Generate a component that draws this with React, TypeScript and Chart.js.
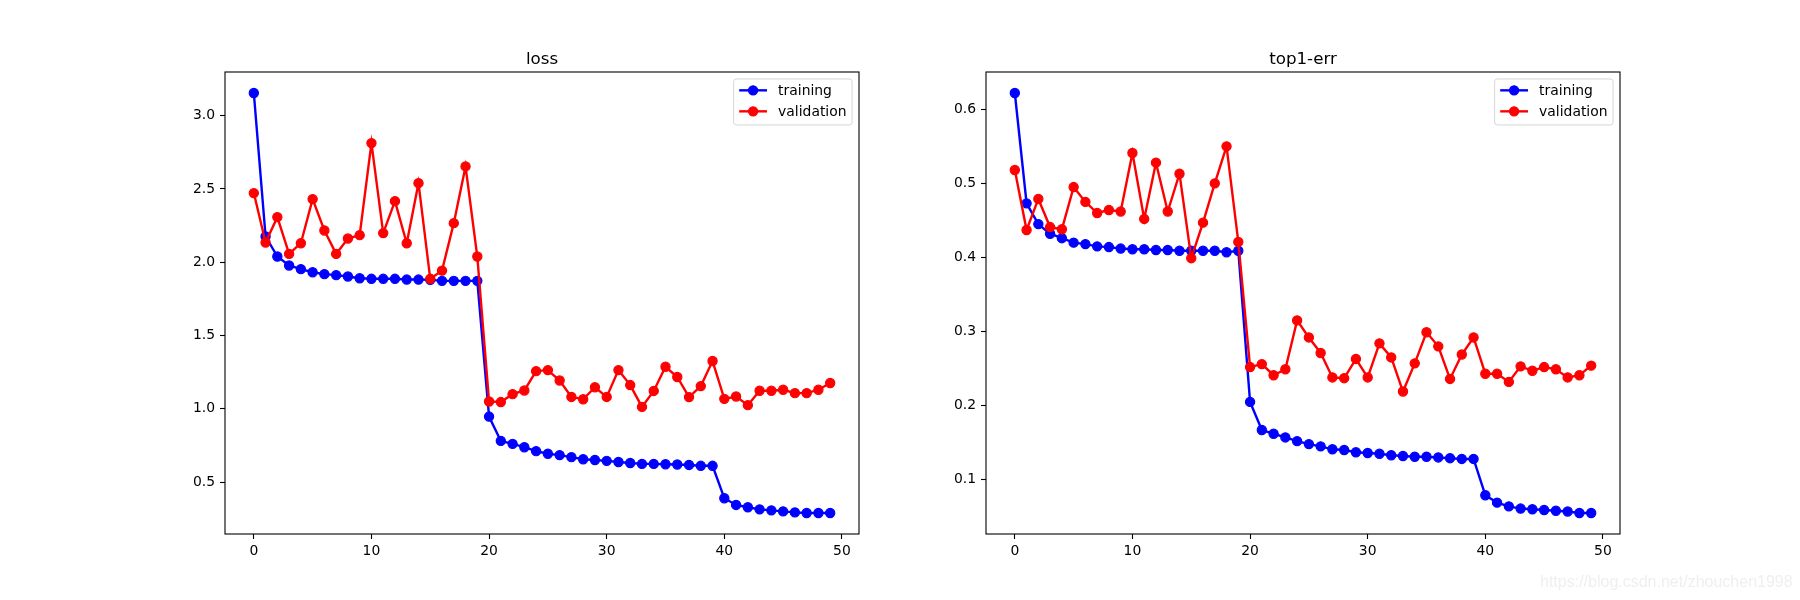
import React, { useEffect, useRef } from "react";
import { Chart, registerables } from "chart.js";

Chart.register(...registerables);

// ---------------- data ----------------
const epochs = [
  0, 1, 2, 3, 4, 5, 6, 7, 8, 9, 10, 11, 12, 13, 14, 15, 16, 17, 18, 19, 20, 21, 22, 23, 24,
  25, 26, 27, 28, 29, 30, 31, 32, 33, 34, 35, 36, 37, 38, 39, 40, 41, 42, 43, 44, 45, 46, 47, 48, 49,
];

const lossTrain = [
  3.155, 2.176, 2.039, 1.978, 1.953, 1.932, 1.919, 1.912, 1.903, 1.891,
  1.887, 1.887, 1.887, 1.882, 1.882, 1.88, 1.873, 1.873, 1.873, 1.873,
  0.947, 0.781, 0.761, 0.738, 0.711, 0.693, 0.684, 0.67, 0.656, 0.651,
  0.645, 0.637, 0.63, 0.624, 0.624, 0.622, 0.62, 0.617, 0.611, 0.611,
  0.39, 0.344, 0.328, 0.314, 0.307, 0.3, 0.293, 0.289, 0.289, 0.289,
];

const lossVal = [
  2.472, 2.135, 2.308, 2.057, 2.13, 2.431, 2.217, 2.057, 2.162, 2.185,
  2.813, 2.199, 2.417, 2.13, 2.54, 1.887, 1.943, 2.267, 2.654, 2.039,
  1.05, 1.046, 1.1, 1.125, 1.257, 1.264, 1.193, 1.081, 1.065, 1.147,
  1.081, 1.264, 1.162, 1.013, 1.122, 1.287, 1.217, 1.08, 1.155, 1.326,
  1.068, 1.084, 1.025, 1.123, 1.123, 1.13, 1.107, 1.107, 1.13, 1.176,
];

const errTrain = [
  0.622, 0.473, 0.445, 0.432, 0.426, 0.42, 0.418, 0.415, 0.414, 0.412,
  0.411, 0.411, 0.41, 0.41, 0.409, 0.409, 0.409, 0.409, 0.407, 0.409,
  0.205, 0.167, 0.162, 0.157, 0.152, 0.148, 0.145, 0.141, 0.14, 0.137,
  0.136, 0.135, 0.133, 0.132, 0.131, 0.131, 0.13, 0.129, 0.128, 0.128,
  0.079, 0.069, 0.064, 0.061, 0.06, 0.059, 0.058, 0.057, 0.055, 0.055,
];

const errVal = [
  0.518, 0.437, 0.479, 0.441, 0.438, 0.495, 0.475, 0.46, 0.464, 0.462,
  0.541, 0.452, 0.528, 0.462, 0.513, 0.399, 0.447, 0.5, 0.55, 0.421,
  0.252, 0.256, 0.241, 0.249, 0.315, 0.292, 0.271, 0.238, 0.237, 0.263,
  0.238, 0.284, 0.265, 0.219, 0.257, 0.299, 0.28, 0.236, 0.269, 0.292,
  0.243, 0.243, 0.232, 0.253, 0.247, 0.252, 0.249, 0.238, 0.241, 0.254,
];

const xTicks = [0, 10, 20, 30, 40, 50];
const lossTicks = [0.5, 1.0, 1.5, 2.0, 2.5, 3.0];
const errTicks = [0.1, 0.2, 0.3, 0.4, 0.5, 0.6];
const seriesLabels = ["training", "validation"];
const seriesColors = ["#0000ff", "#ff0000"];
const panelTitles = ["loss", "top1-err"];
const watermarkText = "https://blog.csdn.net/zhouchen1998";

// ---------------- styling ----------------
const FONT = '"DejaVu Sans", "Liberation Sans", sans-serif';
const TICK_FS = 13.9;
const TITLE_FS = 16.7;
const PT_RADIUS = 4.6;
const PT_BORDER = 1.2;
const LINE_W = 2.4;

function autoRange(values: number[]) {
  let mn = Infinity;
  let mx = -Infinity;
  for (const v of values) {
    if (v < mn) mn = v;
    if (v > mx) mx = v;
  }
  const m = (mx - mn) * 0.05;
  return [mn - m, mx + m];
}

const decorPlugin = {
  id: "decor",
  afterDraw(chart: any, _args: any, opts: any) {
    const { ctx, chartArea: a } = chart;
    ctx.save();
    // spines
    ctx.strokeStyle = "#000";
    ctx.lineWidth = 1.1;
    ctx.strokeRect(a.left, a.top, a.right - a.left, a.bottom - a.top);

    // title
    ctx.fillStyle = "#000";
    ctx.font = `${TITLE_FS}px ${FONT}`;
    ctx.textAlign = "center";
    ctx.textBaseline = "alphabetic";
    ctx.fillText(opts.title, (a.left + a.right) / 2, a.top - 8.5);

    // legend
    ctx.font = `${TICK_FS}px ${FONT}`;
    const ds = chart.data.datasets;
    let maxW = 0;
    ds.forEach((d: any) => {
      maxW = Math.max(maxW, ctx.measureText(d.label).width);
    });
    const pad = 0.4 * TICK_FS;
    const handleLen = 2.0 * TICK_FS;
    const textPad = 0.8 * TICK_FS;
    const boxW = pad + handleLen + textPad + maxW + pad;
    const boxH = 46;
    const boxR = a.right - 6.94;
    const boxL = boxR - boxW;
    const boxT = a.top + 6.94;
    const r = 2.8;
    ctx.beginPath();
    ctx.moveTo(boxL + r, boxT);
    ctx.lineTo(boxR - r, boxT);
    ctx.arcTo(boxR, boxT, boxR, boxT + r, r);
    ctx.lineTo(boxR, boxT + boxH - r);
    ctx.arcTo(boxR, boxT + boxH, boxR - r, boxT + boxH, r);
    ctx.lineTo(boxL + r, boxT + boxH);
    ctx.arcTo(boxL, boxT + boxH, boxL, boxT + boxH - r, r);
    ctx.lineTo(boxL, boxT + r);
    ctx.arcTo(boxL, boxT, boxL + r, boxT, r);
    ctx.closePath();
    ctx.fillStyle = "rgba(255,255,255,0.8)";
    ctx.fill();
    ctx.strokeStyle = "rgba(204,204,204,0.8)";
    ctx.lineWidth = 1;
    ctx.stroke();

    ds.forEach((d: any, i: number) => {
      const cy = boxT + 11.4 + i * 21;
      const x0 = boxL + pad;
      const x1 = x0 + handleLen;
      ctx.strokeStyle = d.borderColor;
      ctx.lineWidth = LINE_W;
      ctx.beginPath();
      ctx.moveTo(x0, cy);
      ctx.lineTo(x1, cy);
      ctx.stroke();
      ctx.beginPath();
      ctx.arc((x0 + x1) / 2, cy, PT_RADIUS, 0, Math.PI * 2);
      ctx.fillStyle = d.borderColor;
      ctx.fill();
      ctx.lineWidth = PT_BORDER;
      ctx.stroke();
      ctx.fillStyle = "#000";
      ctx.textAlign = "left";
      ctx.textBaseline = "alphabetic";
      ctx.fillText(d.label, x1 + textPad, cy + 5);
    });

    // watermark
    if (opts.watermark) {
      ctx.font = `16px "Liberation Sans", Arial, sans-serif`;
      ctx.fillStyle = "rgb(239,239,239)";
      ctx.textAlign = "left";
      ctx.textBaseline = "alphabetic";
      ctx.fillText(opts.watermark, opts.watermarkX, 586.5);
    }
    ctx.restore();
  },
};

type PanelProps = {
  left: number;
  title: string;
  train: number[];
  val: number[];
  yTicks: number[];
  yAxisWidth: number;
  padRight: number;
  watermark?: string;
  watermarkX?: number;
};

function Panel(p: PanelProps) {
  const ref = useRef<HTMLCanvasElement | null>(null);
  useEffect(() => {
    if (!ref.current) return;
    const [ymin, ymax] = autoRange([...p.train, ...p.val]);
    const [xmin, xmax] = autoRange(epochs);
    const mk = (label: string, data: number[], color: string, order: number) => ({
      label,
      data,
      borderColor: color,
      backgroundColor: color,
      borderWidth: LINE_W,
      pointRadius: PT_RADIUS,
      pointBorderWidth: PT_BORDER,
      pointBackgroundColor: color,
      pointBorderColor: color,
      pointHoverRadius: PT_RADIUS,
      tension: 0,
      fill: false,
      order,
    });
    const chart = new Chart(ref.current, {
      type: "line",
      data: {
        labels: epochs,
        datasets: [
          mk(seriesLabels[0], p.train, seriesColors[0], 1),
          mk(seriesLabels[1], p.val, seriesColors[1], 0),
        ],
      },
      plugins: [decorPlugin],
      options: {
        responsive: false,
        animation: false,
        devicePixelRatio: 1,
        events: [],
        layout: { padding: { left: 0, top: 72, right: p.padRight, bottom: 0 } },
        plugins: {
          legend: { display: false },
          title: { display: false },
          tooltip: { enabled: false },
          decor: {
            title: p.title,
            watermark: p.watermark,
            watermarkX: p.watermarkX,
          },
        } as any,
        scales: {
          x: {
            type: "linear",
            min: xmin,
            max: xmax,
            afterFit: (s: any) => {
              s.height = 66;
            },
            afterBuildTicks: (s: any) => {
              s.ticks = xTicks.map((v) => ({ value: v }));
            },
            grid: {
              drawOnChartArea: false,
              drawTicks: true,
              tickLength: 5,
              tickWidth: 1.1,
              tickColor: "#000",
            },
            border: { display: false },
            ticks: {
              color: "#000",
              padding: 4,
              maxRotation: 0,
              autoSkip: false,
              font: { family: FONT, size: TICK_FS },
              callback: (v: any) => String(v),
            },
          },
          y: {
            type: "linear",
            min: ymin,
            max: ymax,
            afterFit: (s: any) => {
              s.width = p.yAxisWidth;
            },
            afterBuildTicks: (s: any) => {
              s.ticks = p.yTicks.map((v) => ({ value: v }));
            },
            grid: {
              drawOnChartArea: false,
              drawTicks: true,
              tickLength: 5,
              tickWidth: 1.1,
              tickColor: "#000",
            },
            border: { display: false },
            ticks: {
              color: "#000",
              padding: 5,
              autoSkip: false,
              font: { family: FONT, size: TICK_FS },
              callback: (v: any) => Number(v).toFixed(1),
            },
          },
        },
      } as any,
    });
    return () => chart.destroy();
  }, []);
  return (
    <canvas
      ref={ref}
      width={900}
      height={600}
      style={{ position: "absolute", left: p.left, top: 0, width: 900, height: 600 }}
    />
  );
}

export default function App() {
  return (
    <div
      style={{
        position: "absolute",
        left: 0,
        top: 0,
        width: 1800,
        height: 600,
        background: "#fff",
        overflow: "hidden",
      }}
    >
      <Panel
        left={0}
        title={panelTitles[0]}
        train={lossTrain}
        val={lossVal}
        yTicks={lossTicks}
        yAxisWidth={225}
        padRight={41}
      />
      <Panel
        left={900}
        title={panelTitles[1]}
        train={errTrain}
        val={errVal}
        yTicks={errTicks}
        yAxisWidth={86}
        padRight={180}
        watermark={watermarkText}
        watermarkX={640}
      />
    </div>
  );
}
